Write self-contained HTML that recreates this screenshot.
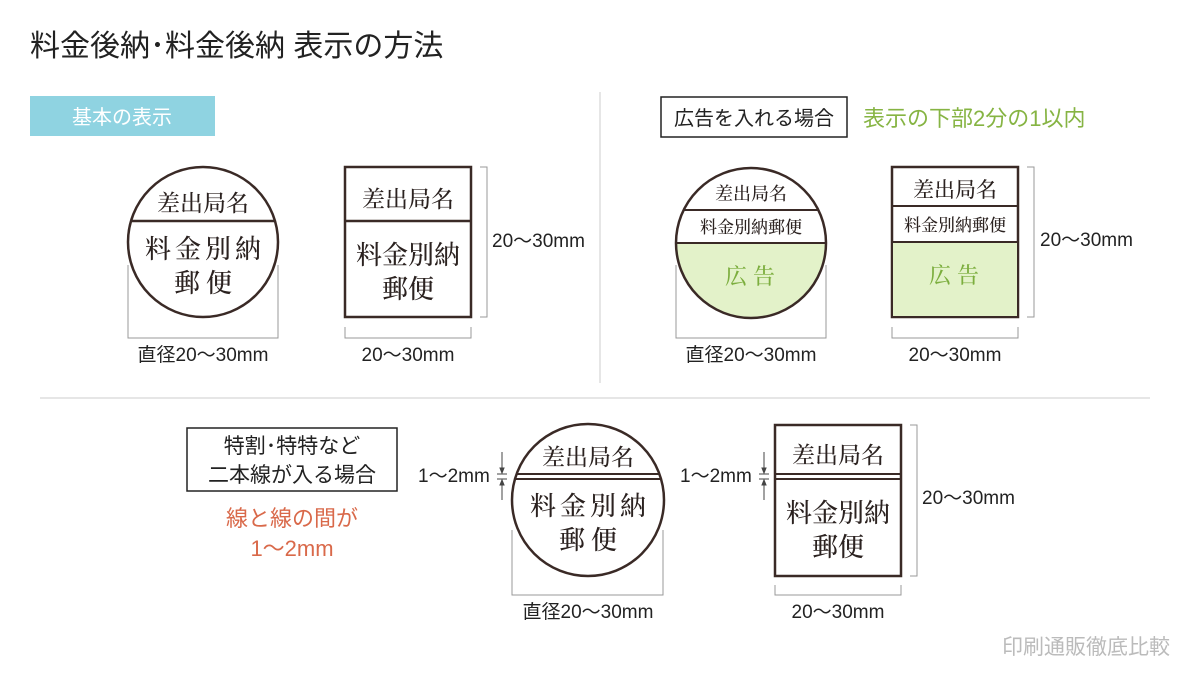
<!DOCTYPE html>
<html><head><meta charset="utf-8"><style>
html,body{margin:0;padding:0;background:#fff;}
svg{display:block;}
.s{font-family:"Liberation Sans","Noto Sans CJK JP",sans-serif;}
.m{font-family:"Noto Serif CJK SC","Noto Serif CJK JP",serif;fill:#2b2220;font-weight:500;}
</style></head><body>
<svg width="1200" height="675" viewBox="0 0 1200 675" xmlns="http://www.w3.org/2000/svg">
<g class="s">
<text x="30" y="56" font-size="30" fill="#222">料金後納･料金後納 表示の方法</text>
<line x1="600" y1="92" x2="600" y2="383" stroke="#ccc"/>
<line x1="40" y1="398" x2="1150" y2="398" stroke="#ccc"/>

<rect x="30" y="96" width="185" height="40" fill="#8fd3e1"/>
<text x="122" y="124" font-size="20" fill="#fff" text-anchor="middle">基本の表示</text>

<rect x="661" y="97" width="186" height="40" fill="#fff" stroke="#222" stroke-width="1.5"/>
<text x="754" y="125" font-size="20" fill="#222" text-anchor="middle">広告を入れる場合</text>
<text x="863" y="126" font-size="22" fill="#86b443">表示の下部2分の1以内</text>

<rect x="187" y="428" width="210" height="63" fill="#fff" stroke="#222" stroke-width="1.5"/>
<text x="292" y="453" font-size="21" fill="#222" text-anchor="middle">特割･特特など</text>
<text x="292" y="482" font-size="21" fill="#222" text-anchor="middle">二本線が入る場合</text>
<text x="292" y="526" font-size="22" fill="#d9694a" text-anchor="middle">線と線の間が</text>
<text x="292" y="556" font-size="22" fill="#d9694a" text-anchor="middle">1～2mm</text>

<text x="1170" y="654" font-size="21" fill="#bbb" text-anchor="end">印刷通販徹底比較</text>
</g>

<g fill="none" stroke="#999" stroke-width="1">
<polyline points="128,265 128,338 278,338 278,265"/>
<polyline points="345,327 345,338 471,338 471,327"/>
<polyline points="480,167 487,167 487,317 480,317"/>
<polyline points="676,265 676,338 826,338 826,265"/>
<polyline points="892,327 892,338 1018,338 1018,327"/>
<polyline points="1027,167 1034,167 1034,317 1027,317"/>
<polyline points="512,530 512,595 663,595 663,530"/>
<polyline points="775,585 775,595 901,595 901,585"/>
<polyline points="910,425 917,425 917,576 910,576"/>
</g>
<g class="s" font-size="19" fill="#222">
<text x="203" y="361" text-anchor="middle">直径20～30mm</text>
<text x="408" y="361" text-anchor="middle">20～30mm</text>
<text x="492" y="247">20～30mm</text>
<text x="751" y="361" text-anchor="middle">直径20～30mm</text>
<text x="955" y="361" text-anchor="middle">20～30mm</text>
<text x="1040" y="246">20～30mm</text>
<text x="588" y="618" text-anchor="middle">直径20～30mm</text>
<text x="838" y="618" text-anchor="middle">20～30mm</text>
<text x="922" y="504">20～30mm</text>
<text x="418" y="482">1～2mm</text>
<text x="680" y="482">1～2mm</text>
</g>
<g stroke="#444" stroke-width="1" fill="#444">
<line x1="502" y1="452" x2="502" y2="473"/><line x1="497" y1="474" x2="507" y2="474"/>
<line x1="502" y1="480" x2="502" y2="500"/><line x1="497" y1="479" x2="507" y2="479"/>
<polygon points="500,468 504,468 502,473"/><polygon points="500,485 504,485 502,480"/>
<line x1="764" y1="452" x2="764" y2="473"/><line x1="759" y1="474" x2="769" y2="474"/>
<line x1="764" y1="480" x2="764" y2="500"/><line x1="759" y1="479" x2="769" y2="479"/>
<polygon points="762,468 766,468 764,473"/><polygon points="762,485 766,485 764,480"/>
</g>

<circle cx="203" cy="242" r="75" fill="#fff" stroke="#3a2a26" stroke-width="2.5"/>
<line x1="131" y1="221" x2="275" y2="221" stroke="#3a2a26" stroke-width="2.5"/>
<text class="m" x="203" y="211" font-size="23" text-anchor="middle">差出局名</text>
<text class="m" x="205" y="258" font-size="26" text-anchor="middle" letter-spacing="4">料金別納</text>
<text class="m" x="206" y="292" font-size="26" text-anchor="middle" letter-spacing="6">郵便</text>

<rect x="345" y="167" width="126" height="150" fill="#fff" stroke="#3a2a26" stroke-width="2.5"/>
<line x1="345" y1="221" x2="471" y2="221" stroke="#3a2a26" stroke-width="2.5"/>
<text class="m" x="408" y="207" font-size="23" text-anchor="middle">差出局名</text>
<text class="m" x="408" y="264" font-size="26" text-anchor="middle">料金別納</text>
<text class="m" x="408" y="298" font-size="26" text-anchor="middle">郵便</text>

<defs><clipPath id="c2"><circle cx="751" cy="243" r="75"/></clipPath></defs>
<circle cx="751" cy="243" r="75" fill="#fff"/>
<rect x="670" y="243" width="170" height="80" fill="#e3f2c9" clip-path="url(#c2)"/>
<circle cx="751" cy="243" r="75" fill="none" stroke="#3a2a26" stroke-width="2.5"/>
<line x1="683" y1="210" x2="819" y2="210" stroke="#3a2a26" stroke-width="2"/>
<line x1="676" y1="243" x2="826" y2="243" stroke="#3a2a26" stroke-width="2"/>
<text class="m" x="751" y="200" font-size="18" text-anchor="middle">差出局名</text>
<text class="m" x="751" y="233" font-size="17" text-anchor="middle">料金別納郵便</text>
<text class="m" x="753" y="284" font-size="22" text-anchor="middle" letter-spacing="6" style="fill:#7cae3e">広告</text>

<rect x="892" y="167" width="126" height="150" fill="#fff" stroke="#3a2a26" stroke-width="2.5"/>
<rect x="893" y="242" width="124" height="74" fill="#e3f2c9"/>
<line x1="892" y1="206" x2="1018" y2="206" stroke="#3a2a26" stroke-width="2"/>
<line x1="892" y1="242" x2="1018" y2="242" stroke="#3a2a26" stroke-width="2"/>
<text class="m" x="955" y="197" font-size="21" text-anchor="middle">差出局名</text>
<text class="m" x="955" y="231" font-size="17" text-anchor="middle">料金別納郵便</text>
<text class="m" x="957" y="283" font-size="22" text-anchor="middle" letter-spacing="6" style="fill:#7cae3e">広告</text>

<circle cx="588" cy="500" r="76" fill="#fff" stroke="#3a2a26" stroke-width="2.5"/>
<line x1="517" y1="474" x2="659" y2="474" stroke="#3a2a26" stroke-width="2"/>
<line x1="514" y1="479" x2="662" y2="479" stroke="#3a2a26" stroke-width="2"/>
<text class="m" x="588" y="465" font-size="23" text-anchor="middle">差出局名</text>
<text class="m" x="590" y="515" font-size="26" text-anchor="middle" letter-spacing="4">料金別納</text>
<text class="m" x="591" y="549" font-size="26" text-anchor="middle" letter-spacing="6">郵便</text>

<rect x="775" y="425" width="126" height="151" fill="#fff" stroke="#3a2a26" stroke-width="2.5"/>
<line x1="775" y1="474" x2="901" y2="474" stroke="#3a2a26" stroke-width="2"/>
<line x1="775" y1="479" x2="901" y2="479" stroke="#3a2a26" stroke-width="2"/>
<text class="m" x="838" y="463" font-size="23" text-anchor="middle">差出局名</text>
<text class="m" x="838" y="522" font-size="26" text-anchor="middle">料金別納</text>
<text class="m" x="838" y="556" font-size="26" text-anchor="middle">郵便</text>
</svg>
</body></html>
